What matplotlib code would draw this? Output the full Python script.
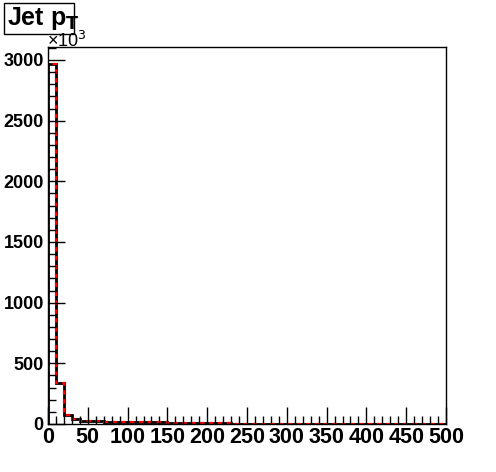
import numpy as np
import matplotlib
matplotlib.use("Agg")
import matplotlib.pyplot as plt
from matplotlib.ticker import MultipleLocator
from matplotlib.patches import Rectangle

plt.rcParams["font.family"] = ["Liberation Sans", "DejaVu Sans"]

# Jet pT histogram, 50 bins of 10 GeV, counts in units of 10^3
bin_edges = list(range(0, 510, 10))
counts = [2963, 340, 72, 38, 28, 24, 22, 20, 19, 18,
          17, 16, 15, 14, 13, 12, 10, 9, 8, 7,
          6, 5, 5, 4, 4, 3, 3, 3, 2, 2,
          2, 2, 2, 1.5, 1.5, 1.5, 1, 1, 1, 1,
          1, 1, 1, 1, 0.8, 0.8, 0.8, 0.8, 0.8, 0.8]
title = "Jet p$_\\mathbf{T}$"
y_top = 3107

fig = plt.figure(figsize=(4.96, 4.72), dpi=100)
ax = fig.add_axes([48 / 496, 1 - 424 / 472, 398 / 496, 377 / 472])

ax.stairs(counts, bin_edges, color="black", linewidth=2, baseline=0)
ax.stairs(counts, bin_edges, color="red", linewidth=1.6, linestyle=(0, (2, 2)), baseline=0)

ax.set_xlim(0, 500)
ax.set_ylim(0, y_top)
ax.xaxis.set_major_locator(MultipleLocator(50))
ax.xaxis.set_minor_locator(MultipleLocator(10))
ax.yaxis.set_major_locator(MultipleLocator(500))
ax.yaxis.set_minor_locator(MultipleLocator(100))
ax.tick_params(which="both", direction="in", top=False, right=False, width=1)
ax.tick_params(which="major", length=12)
ax.tick_params(which="minor", length=6)
ax.tick_params(axis="x", labelsize=15.5, pad=2)
ax.tick_params(axis="y", labelsize=13, pad=3)
for lab in ax.get_xticklabels() + ax.get_yticklabels():
    lab.set_fontweight("bold")
for s in ax.spines.values():
    s.set_linewidth(1)

# multiplier above y axis
fig.text(47 / 496, 1 - 41 / 472, "×10$^{3}$", fontsize=13, ha="left", va="center")

# title box
fig.patches.append(Rectangle((4 / 496, 1 - 34 / 472), 70 / 496, 31 / 472,
                             transform=fig.transFigure, fill=False,
                             edgecolor="black", linewidth=1))
fig.text(7 / 496, 1 - 18 / 472, title, fontsize=18, fontweight="bold",
         ha="left", va="center")

fig.savefig("out.png", dpi=100)
